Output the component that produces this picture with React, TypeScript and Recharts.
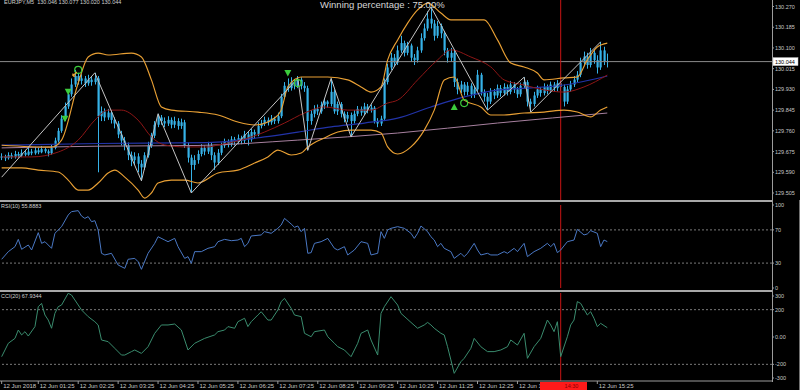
import React from 'react';
import { ComposedChart, Bar, Line, XAxis, YAxis, ReferenceLine, ReferenceDot } from 'recharts';

// ---------------- data ----------------
const SLOTS = 232; // bar slots on screen (183 bars + chart shift)
const FIRST_OPEN = 129.65;

const closes = [
  129.655, 129.648, 129.66, 129.652, 129.665, 129.658, 129.67, 129.662, 129.675, 129.668,
  129.68, 129.672, 129.685, 129.676, 129.668, 129.69, 129.72, 129.76, 129.81, 129.86,
  129.91, 129.95, 129.985, 129.965, 129.975, 129.955, 129.97, 129.96, 129.975, 129.82,
  129.84, 129.815, 129.835, 129.805, 129.79, 129.745, 129.72, 129.7, 129.66, 129.64,
  129.655, 129.625, 129.61, 129.66, 129.7, 129.74, 129.785, 129.815, 129.8, 129.79,
  129.805, 129.785, 129.8, 129.78, 129.795, 129.7, 129.65, 129.62, 129.64, 129.665,
  129.69, 129.675, 129.7, 129.66, 129.63, 129.67, 129.7, 129.715, 129.705, 129.725,
  129.715, 129.73, 129.72, 129.745, 129.725, 129.755, 129.745, 129.78, 129.79, 129.805,
  129.795, 129.81, 129.8, 129.82, 129.9, 129.945, 129.935, 129.96, 129.945, 129.97,
  129.945, 129.935, 129.8, 129.83, 129.85, 129.84, 129.865, 129.88, 129.87, 129.92,
  129.84, 129.87, 129.83, 129.81, 129.825, 129.8, 129.83, 129.85, 129.835, 129.86,
  129.845, 129.855, 129.8, 129.79, 129.81, 129.96, 130.02, 130.06, 130.04, 130.09,
  130.12, 130.08, 130.11, 130.06, 130.05, 130.09, 130.14, 130.18, 130.22, 130.2,
  130.15, 130.19, 130.16, 130.09, 130.06, 130.08, 129.96, 129.93, 129.95, 129.92,
  129.945, 129.91, 129.93, 129.99, 129.92, 129.9, 129.88, 129.92, 129.905, 129.935,
  129.915, 129.94, 129.92, 129.95, 129.93, 129.91, 129.945, 129.96, 129.88, 129.87,
  129.905, 129.93, 129.915, 129.94, 129.925, 129.95, 129.935, 129.955, 129.94, 129.88,
  129.93, 129.95, 129.97, 129.99, 130.04, 130.065, 130.03, 130.08, 130.05, 130.02,
  130.09, 130.046, 130.044,
];

const highs = [
  129.668, 129.662, 129.672, 129.67, 129.678, 129.674, 129.684, 129.682, 129.69, 129.686,
  129.694, 129.69, 129.698, 129.692, 129.684, 129.702, 129.732, 129.772, 129.824, 129.876,
  129.93, 129.975, 130.01, 129.998, 129.992, 129.985, 129.99, 129.985, 129.998, 129.985,
  129.86, 129.852, 129.85, 129.845, 129.815, 129.8, 129.76, 129.735, 129.712, 129.675,
  129.672, 129.668, 129.64, 129.672, 129.715, 129.752, 129.8, 129.83, 129.825, 129.815,
  129.82, 129.815, 129.818, 129.812, 129.81, 129.805, 129.712, 129.662, 129.66, 129.68,
  129.705, 129.7, 129.715, 129.71, 129.672, 129.685, 129.712, 129.728, 129.725, 129.738,
  129.735, 129.745, 129.74, 129.76, 129.758, 129.768, 129.765, 129.795, 129.805, 129.818,
  129.815, 129.825, 129.818, 129.835, 129.912, 129.96, 129.975, 129.98, 129.972, 129.985,
  129.98, 129.96, 129.945, 129.845, 129.865, 129.868, 129.88, 129.895, 129.885, 129.975,
  129.93, 129.88, 129.878, 129.84, 129.838, 129.835, 129.845, 129.862, 129.86, 129.875,
  129.87, 129.868, 129.862, 129.812, 129.822, 129.975, 130.035, 130.08, 130.075, 130.11,
  130.15, 130.13, 130.125, 130.118, 130.075, 130.105, 130.16, 130.2, 130.25, 130.268,
  130.215, 130.21, 130.2, 130.17, 130.1, 130.1, 130.09, 129.975, 129.965, 129.96,
  129.96, 129.955, 129.945, 130.01, 129.998, 129.93, 129.915, 129.935, 129.932, 129.95,
  129.948, 129.955, 129.95, 129.965, 129.96, 129.94, 129.958, 129.98, 129.968, 129.892,
  129.92, 129.945, 129.94, 129.955, 129.95, 129.962, 129.96, 129.968, 129.965, 129.95,
  129.945, 129.965, 129.985, 130.005, 130.06, 130.085, 130.08, 130.1, 130.095, 130.07,
  130.125, 130.105, 130.077,
];

const lows = [
  129.64, 129.636, 129.642, 129.645, 129.646, 129.65, 129.652, 129.655, 129.658, 129.66,
  129.662, 129.664, 129.668, 129.668, 129.655, 129.662, 129.684, 129.712, 129.752, 129.8,
  129.85, 129.9, 129.94, 129.95, 129.95, 129.94, 129.945, 129.945, 129.95, 129.59,
  129.8, 129.8, 129.805, 129.79, 129.77, 129.73, 129.7, 129.68, 129.64, 129.615,
  129.62, 129.59, 129.555, 129.6, 129.65, 129.69, 129.73, 129.775, 129.785, 129.775,
  129.78, 129.77, 129.772, 129.765, 129.768, 129.69, 129.63, 129.505, 129.6, 129.625,
  129.655, 129.66, 129.665, 129.64, 129.6, 129.62, 129.66, 129.69, 129.692, 129.695,
  129.7, 129.705, 129.705, 129.71, 129.7, 129.715, 129.73, 129.738, 129.77, 129.78,
  129.782, 129.785, 129.788, 129.79, 129.812, 129.89, 129.92, 129.925, 129.93, 129.935,
  129.93, 129.92, 129.68, 129.785, 129.815, 129.825, 129.83, 129.85, 129.855, 129.86,
  129.83, 129.825, 129.815, 129.795, 129.795, 129.735, 129.79, 129.82, 129.822, 129.825,
  129.832, 129.835, 129.79, 129.775, 129.78, 129.8, 129.95, 130.01, 130.025, 130.03,
  130.08, 130.065, 130.07, 130.045, 130.03, 130.04, 130.08, 130.13, 130.17, 130.18,
  130.13, 130.14, 130.14, 130.07, 130.04, 130.045, 129.94, 129.91, 129.915, 129.905,
  129.905, 129.895, 129.895, 129.92, 129.905, 129.88, 129.845, 129.87, 129.89, 129.895,
  129.9, 129.905, 129.905, 129.91, 129.915, 129.895, 129.9, 129.935, 129.86, 129.837,
  129.86, 129.895, 129.9, 129.905, 129.91, 129.915, 129.92, 129.922, 129.925, 129.86,
  129.87, 129.92, 129.94, 129.96, 129.98, 130.025, 130.015, 130.02, 130.035, 129.995,
  130.01, 130.03, 130.02,
];

type Pt = [number, number];

const zigzag: Pt[] = [
  [0, 129.57], [28, 129.998], [42, 129.555], [47, 129.83], [57, 129.505], [89, 129.975],
  [92, 129.68], [99, 129.975], [105, 129.735], [129, 130.268], [146, 129.845], [157, 129.98],
  [159, 129.837], [180, 130.125],
];

const bbUpper: Pt[] = [
  [0, 129.701], [15, 129.693], [18, 129.722], [23, 129.956], [26, 130.063], [29, 130.079],
  [32, 130.071], [39, 130.079], [42, 130.063], [45, 129.969], [48, 129.858], [51, 129.845],
  [59, 129.837], [65, 129.825], [71, 129.796], [76, 129.784], [82, 129.813], [84, 129.845],
  [86, 129.94], [90, 129.981], [98, 129.981], [104, 129.969], [108, 129.94], [111, 129.919],
  [114, 129.94], [116, 130.051], [119, 130.133], [122, 130.202], [125, 130.256], [128, 130.284],
  [132, 130.243], [135, 130.215], [139, 130.215], [145, 130.215], [149, 130.133], [153, 130.038],
  [157, 130.022], [161, 129.997], [163, 129.969], [169, 129.977], [173, 129.981], [176, 130.051],
  [179, 130.104], [182, 130.12],
];

const bbMiddle: Pt[] = [
  [0, 129.653], [9, 129.653], [17, 129.673], [23, 129.722], [28, 129.804], [32, 129.845],
  [36, 129.845], [41, 129.804], [45, 129.735], [49, 129.702], [55, 129.694], [62, 129.694],
  [65, 129.702], [72, 129.722], [79, 129.755], [85, 129.792], [91, 129.833], [97, 129.858],
  [104, 129.845], [111, 129.845], [116, 129.874], [119, 129.886], [125, 129.969], [131, 130.051],
  [135, 130.092], [141, 130.063], [147, 130.022], [151, 129.969], [157, 129.948], [163, 129.928],
  [169, 129.919], [175, 129.94], [182, 129.989],
];

const bbLower: Pt[] = [
  [0, 129.608], [6, 129.608], [11, 129.599], [17, 129.591], [20, 129.558], [23, 129.517],
  [26, 129.517], [29, 129.546], [32, 129.587], [34, 129.599], [37, 129.57], [41, 129.517],
  [43, 129.484], [45, 129.505], [47, 129.546], [51, 129.558], [55, 129.558], [59, 129.546],
  [65, 129.587], [71, 129.599], [76, 129.628], [80, 129.653], [83, 129.681], [87, 129.661],
  [90, 129.669], [92, 129.694], [97, 129.731], [101, 129.755], [105, 129.763], [111, 129.763],
  [114, 129.751], [116, 129.694], [119, 129.665], [123, 129.694], [127, 129.763], [130, 129.845],
  [133, 129.969], [136, 129.981], [139, 129.886], [144, 129.858], [147, 129.825], [151, 129.825],
  [157, 129.833], [163, 129.837], [169, 129.845], [173, 129.837], [177, 129.817], [180, 129.845],
  [182, 129.858],
];

const maBlue: Pt[] = [
  [0, 129.701], [29, 129.708], [62, 129.712], [79, 129.735], [89, 129.755], [99, 129.776],
  [109, 129.792], [119, 129.812], [129, 129.858], [139, 129.899], [149, 129.927], [159, 129.936],
  [169, 129.948], [182, 129.985],
];

const maPurple: Pt[] = [
  [0, 129.69], [29, 129.697], [59, 129.7], [89, 129.722], [119, 129.751], [149, 129.792], [182, 129.833],
];

const rsi10: Pt[] = [
  [0, 34.6], [2, 43.8], [4, 49.8], [5, 58.6], [6, 46.6], [8, 51.8], [9, 45.8], [11, 66.7], [12, 53.8],
  [13, 55.8], [15, 47.8], [16, 65.9], [18, 73.9], [20, 88], [21, 92], [23, 93.2], [24, 86.7], [25, 83.9],
  [26, 86], [27, 79.9], [28, 81.1], [29, 69.9], [30, 41.8], [31, 39.8], [33, 41.8], [35, 27.7], [37, 23.7],
  [38, 34.6], [40, 35.7], [41, 31.7], [42, 22.5], [44, 41.8], [46, 53.8], [47, 61.8], [49, 57.8], [50, 55.8],
  [52, 59.8], [53, 49.8], [55, 35.7], [56, 37.8], [57, 29.7], [58, 43.8], [60, 43.8], [62, 47.8], [64, 49.8],
  [65, 55.8], [67, 58.6], [69, 57], [71, 57.8], [72, 59.8], [73, 49.8], [74, 53.8], [75, 62.7], [78, 63.9],
  [79, 67.9], [81, 65.9], [83, 71.9], [84, 75.9], [85, 83.9], [87, 77.1], [88, 73.1], [89, 74.7], [90, 67.9],
  [91, 71.9], [92, 41.8], [93, 42.6], [94, 53.8], [96, 55.8], [98, 59.8], [100, 47.8], [101, 45.8], [103, 49.8],
  [104, 39.8], [106, 45.8], [108, 55.8], [110, 53.8], [111, 39.8], [113, 41.8], [114, 67.9], [115, 59.8],
  [116, 69.9], [117, 71.9], [119, 73.9], [121, 71.9], [123, 65.9], [124, 59.8], [125, 65.9], [126, 74.7],
  [128, 67.9], [129, 61.8], [130, 57.8], [131, 49.8], [132, 53.8], [133, 47.8], [135, 43.8], [136, 35.7],
  [138, 41.8], [139, 37.8], [140, 41.8], [142, 53.8], [143, 45.8], [144, 39.8], [146, 41.8], [147, 39.8],
  [149, 39.8], [151, 43.8], [152, 41.8], [154, 47.8], [155, 43.8], [157, 53.8], [158, 37.8], [160, 43.8],
  [162, 47.8], [164, 53.8], [165, 49.8], [166, 53.8], [167, 42.6], [168, 45.8], [170, 55.8], [172, 57.8],
  [173, 70.7], [175, 63.9], [176, 65.1], [177, 69.1], [179, 65.9], [180, 49.8], [181, 57.8], [182, 55.9],
];

const cci20: Pt[] = [
  [0, -144], [2, -46], [4, -10], [5, 51], [6, 15], [7, 39], [8, 7], [10, 76], [11, 222], [12, 246],
  [13, 161], [14, 124], [15, 64], [16, 173], [17, 222], [18, 234], [20, 320], [21, 307], [22, 271],
  [24, 198], [26, 149], [28, 112], [29, 88], [30, -22], [32, -34], [34, -83], [36, -132], [37, -132],
  [39, -107], [40, -95], [42, -120], [44, -71], [46, 27], [48, 88], [50, 88], [52, 95], [54, 51],
  [55, -22], [56, -95], [58, -46], [59, -34], [61, -10], [64, 15], [65, 39], [67, 51], [68, 76],
  [70, 64], [71, 112], [73, 137], [74, 76], [75, 112], [77, 161], [78, 185], [80, 124], [81, 124],
  [83, 198], [84, 259], [85, 283], [87, 210], [88, 161], [90, 149], [91, 27], [93, 2], [94, 39],
  [97, 51], [98, 2], [100, -46], [101, -71], [103, -95], [105, -144], [107, -46], [108, 27], [110, 51],
  [111, -22], [113, -132], [114, 173], [115, 222], [117, 295], [119, 234], [120, 173], [123, 107],
  [125, 64], [127, 88], [128, 107], [129, 88], [130, 64], [132, 27], [133, 15], [134, -71], [135, -168],
  [136, -266], [138, -181], [139, -156], [141, -83], [142, -10], [144, -71], [146, -107], [148, -107],
  [150, -95], [152, -71], [153, -22], [155, -59], [157, 27], [158, -156], [160, -71], [162, -10],
  [164, 124], [165, 88], [166, 39], [167, 112], [168, -144], [170, 2], [171, 88], [172, 124], [173, 259],
  [174, 246], [176, 161], [177, 185], [178, 137], [179, 76], [180, 100], [182, 68],
];

const sellArrows: Pt[] = [[19, 129.81], [20, 129.92], [86, 129.997]];
const buyArrows: Pt[] = [[136, 129.858]];
const signalCircles: Pt[] = [[23, 130.01], [89, 129.956], [139, 129.874]];
const exitMarks: Pt[] = [[22, 129.993]];

const priceTicks = [129.505, 129.59, 129.675, 129.76, 129.845, 129.93, 130.015, 130.1, 130.185, 130.27];
const lastPrice = 130.044;
const rsiTicks = [0, 30, 70, 100];
const rsiLevels = [30, 70];
const cciTicks = [-300, -200, 0, 200, 300];
const cciLevels = [-200, 200];
const crossIdx = 168;
const crossLabel = '14:30';

// 14:25 label sits under the crosshair time box in the reference, so only these are shown
const timeTicks = [0, 11, 23, 35, 47, 59, 71, 83, 95, 107, 119, 131, 143, 155, 179];
const timeLabels = [
  '12 Jun 2018', '12 Jun 01:25', '12 Jun 02:25', '12 Jun 03:25', '12 Jun 04:25', '12 Jun 05:25',
  '12 Jun 06:25', '12 Jun 07:25', '12 Jun 08:25', '12 Jun 09:25', '12 Jun 10:25', '12 Jun 11:25',
  '12 Jun 12:25', '12 Jun 13:25', '12 Jun 15:25',
];

const symbolHeader = 'EURJPY,M5  130.046 130.077 130.020 130.044';
const titleText = 'Winning percentage : 75.00%';
const rsiHeader = 'RSI(10) 55.8883';
const cciHeader = 'CCI(20) 67.9344';

// ---------------- table ----------------
const mapOf = (p: Pt[]) => new Map<number, number>(p);
const zzM = mapOf(zigzag), buM = mapOf(bbUpper), bmM = mapOf(bbMiddle), blM = mapOf(bbLower);
const m1M = mapOf(maBlue), m2M = mapOf(maPurple), rM = mapOf(rsi10), cM = mapOf(cci20);

const table = Array.from({ length: SLOTS }, (_, i) => {
  const row: any = { i };
  if (i < closes.length) {
    row.o = i === 0 ? FIRST_OPEN : closes[i - 1];
    row.c = closes[i];
    row.h = highs[i];
    row.l = lows[i];
    row.range = [lows[i], highs[i]];
  } else {
    row.range = null;
  }
  row.zz = zzM.has(i) ? zzM.get(i) : null;
  row.bbU = buM.has(i) ? buM.get(i) : null;
  row.bbM = bmM.has(i) ? bmM.get(i) : null;
  row.bbL = blM.has(i) ? blM.get(i) : null;
  row.ma1 = m1M.has(i) ? m1M.get(i) : null;
  row.ma2 = m2M.has(i) ? m2M.get(i) : null;
  row.rsi = rM.has(i) ? rM.get(i) : null;
  row.cci = cM.has(i) ? cM.get(i) : null;
  return row;
});

// ---------------- styling ----------------
const FONT = '"Liberation Sans", Arial, sans-serif';
const FRAME = '#9c9c9c';
const TXT = '#c8c8c8';
const CANDLE = '#36b2e8';
const BAND = '#e9a034';
const MID = '#8e1616';
const BLUE = '#2233a8';
const PURPLE = '#a7809f';
const ZZ = '#c4c4c4';
const RED = '#c81414';
const GREEN = '#3ccc3c';
const AXIS_W = 28;

const Candle = (props: any) => {
  const { x, y, width, height, payload } = props;
  if (!payload || payload.c == null || x == null) return <g />;
  const top = Math.min(y, y + height);
  const h = Math.abs(height);
  const span = payload.h - payload.l;
  const py = (v: number) => (span > 0 ? top + ((payload.h - v) / span) * h : top);
  const cx = Math.floor(x + width / 2);
  const bTop = py(Math.max(payload.o, payload.c));
  const bBot = py(Math.min(payload.o, payload.c));
  return (
    <g>
      <line x1={cx + 0.5} x2={cx + 0.5} y1={top} y2={top + h} stroke={CANDLE} strokeWidth={1} />
      <rect x={cx - 0.5} y={bTop} width={2.2} height={Math.max(1, bBot - bTop)} fill={CANDLE} />
    </g>
  );
};

const priceTick = (p: any) => {
  const v = p.payload.value;
  if (v === lastPrice) {
    return (
      <g>
        <rect x={p.x - 2} y={p.y - 4} width={25} height={8} fill="#ffffff" stroke="#bbbbbb" strokeWidth={0.5} />
        <text x={p.x} y={p.y + 2} fontSize={5.5} fontFamily={FONT} fill="#000" textAnchor="start">
          {v.toFixed(3)}
        </text>
      </g>
    );
  }
  return (
    <text x={p.x} y={p.y + 2} fontSize={5.5} fontFamily={FONT} fill={TXT} textAnchor="start">
      {v.toFixed(3)}
    </text>
  );
};

const plainTick = (fmt: (v: number) => string) => (p: any) => (
  <text x={p.x} y={p.y + 2} fontSize={5.5} fontFamily={FONT} fill={TXT} textAnchor="start">
    {fmt(p.payload.value)}
  </text>
);

const timeTick = (p: any) => {
  const k = timeTicks.indexOf(p.payload.value);
  return (
    <text x={p.x + 1.5} y={p.y + 4} fontSize={6} fontFamily={FONT} fill={TXT} textAnchor="start">
      {k >= 0 ? timeLabels[k] : ''}
    </text>
  );
};

const sellShape = (p: any) => (
  <path d={`M${p.cx - 3.5},${p.cy - 3} L${p.cx + 3.5},${p.cy - 3} L${p.cx},${p.cy + 3.5} Z`} fill={GREEN} />
);
const buyShape = (p: any) => (
  <path d={`M${p.cx - 3.5},${p.cy + 3} L${p.cx + 3.5},${p.cy + 3} L${p.cx},${p.cy - 3.5} Z`} fill={GREEN} />
);
const circleShape = (p: any) => <circle cx={p.cx} cy={p.cy} r={3.5} fill="none" stroke={GREEN} strokeWidth={1.2} />;
const exitShape = (p: any) => (
  <path d={`M${p.cx - 2},${p.cy + 2} L${p.cx + 2},${p.cy - 2} M${p.cx - 2},${p.cy + 2} L${p.cx - 2},${p.cy - 0.5} M${p.cx - 2},${p.cy + 2} L${p.cx + 0.5},${p.cy + 2}`} stroke={BAND} strokeWidth={1.2} fill="none" />
);

const xAxisHidden = <XAxis dataKey="i" type="category" scale="band" hide />;

const seriesLine = (key: string, color: string, w = 1, curve: any = 'monotone') => (
  <Line
    key={key}
    dataKey={key}
    type={curve}
    stroke={color}
    strokeWidth={w}
    dot={false}
    activeDot={false}
    connectNulls
    isAnimationActive={false}
  />
);

const abs = (left: number, top: number, extra: any = {}) => ({
  position: 'absolute' as const,
  left,
  top,
  ...extra,
});

export default function App() {
  return (
    <div style={{ position: 'absolute', left: 0, top: 0, width: 800, height: 390, background: '#000', overflow: 'hidden', fontFamily: FONT }}>
      {/* main price panel */}
      <div style={abs(0, 0)}>
        <ComposedChart width={800} height={200} data={table} margin={{ top: 0, right: 0, bottom: 0, left: 0 }} barCategoryGap="10%">
          {xAxisHidden}
          <YAxis
            orientation="right"
            width={AXIS_W}
            domain={[129.4763, 130.2967]}
            allowDataOverflow
            ticks={[...priceTicks, lastPrice]}
            interval={0}
            axisLine={false}
            tickLine={{ stroke: FRAME }}
            tickSize={2}
            tickMargin={1}
            tick={priceTick}
          />
          <ReferenceLine y={lastPrice} stroke="#8a8a8a" strokeWidth={1} />
          <ReferenceLine x={crossIdx} stroke={RED} strokeWidth={1} />
          <Bar dataKey="range" shape={<Candle />} isAnimationActive={false} />
          {seriesLine('ma2', PURPLE, 1)}
          {seriesLine('ma1', BLUE, 1.2)}
          {seriesLine('bbM', MID, 1)}
          {seriesLine('bbU', BAND, 1.15)}
          {seriesLine('bbL', BAND, 1.15)}
          {seriesLine('zz', ZZ, 1, 'linear')}
          {sellArrows.map(([i, v]) => (
            <ReferenceDot key={'s' + i} x={i} y={v} r={3} shape={sellShape} />
          ))}
          {buyArrows.map(([i, v]) => (
            <ReferenceDot key={'b' + i} x={i} y={v} r={3} shape={buyShape} />
          ))}
          {signalCircles.map(([i, v]) => (
            <ReferenceDot key={'c' + i} x={i} y={v} r={3} shape={circleShape} />
          ))}
          {exitMarks.map(([i, v]) => (
            <ReferenceDot key={'e' + i} x={i} y={v} r={3} shape={exitShape} />
          ))}
        </ComposedChart>
      </div>

      {/* RSI panel */}
      <div style={abs(0, 200)}>
        <ComposedChart width={800} height={91} data={table} margin={{ top: 5, right: 0, bottom: 3, left: 0 }}>
          {xAxisHidden}
          <YAxis
            orientation="right"
            width={AXIS_W}
            domain={[0, 100]}
            allowDataOverflow
            ticks={rsiTicks}
            interval={0}
            axisLine={false}
            tickLine={{ stroke: FRAME }}
            tickSize={2}
            tickMargin={1}
            tick={plainTick((v) => String(v))}
          />
          {rsiLevels.map((lv) => (
            <ReferenceLine key={lv} y={lv} stroke="#7a7a7a" strokeDasharray="2 2" />
          ))}
          <ReferenceLine x={crossIdx} stroke={RED} strokeWidth={1} />
          {seriesLine('rsi', '#4a78c4', 1, 'linear')}
        </ComposedChart>
      </div>

      {/* CCI panel + time axis */}
      <div style={abs(0, 291)}>
        <ComposedChart width={800} height={99} data={table} margin={{ top: 2, right: 0, bottom: 0, left: 0 }}>
          <XAxis
            dataKey="i"
            type="category"
            scale="band"
            height={9}
            ticks={timeTicks}
            interval={0}
            axisLine={{ stroke: FRAME }}
            tickLine={{ stroke: FRAME }}
            tickSize={3}
            tickMargin={0}
            tick={timeTick}
          />
          <YAxis
            orientation="right"
            width={AXIS_W}
            domain={[-322, 322]}
            allowDataOverflow
            ticks={cciTicks}
            interval={0}
            axisLine={false}
            tickLine={{ stroke: FRAME }}
            tickSize={2}
            tickMargin={1}
            tick={plainTick((v) => (v === 0 ? '0.00' : String(v)))}
          />
          {cciLevels.map((lv) => (
            <ReferenceLine key={lv} y={lv} stroke="#7a7a7a" strokeDasharray="2 2" />
          ))}
          <ReferenceLine x={crossIdx} stroke={RED} strokeWidth={1} />
          {seriesLine('cci', '#3a8c6e', 1, 'linear')}
        </ComposedChart>
      </div>

      {/* frames */}
      <div style={abs(0, 200, { width: 773, height: 2, background: '#a8a8a8' })} />
      <div style={abs(0, 290, { width: 773, height: 2, background: '#a8a8a8' })} />
      <div style={abs(772, 0, { width: 1, height: 382, background: FRAME })} />
      <div style={abs(799, 200, { width: 1, height: 190, background: '#707070' })} />

      {/* crosshair time label (covers the tail of the 13:25 label, as in the reference) */}
      <div style={abs(556, 382, { width: 31, height: 8, background: '#ff1a1a', color: '#8a0000', fontSize: 5.5, lineHeight: '8px', textAlign: 'center', whiteSpace: 'nowrap' })}>
        {crossLabel}
      </div>
      <div style={abs(540, 382, { width: 16, height: 8, background: '#ff1a1a' })} />

      {/* texts */}
      <div style={abs(4, -1, { color: '#d0d0d0', fontSize: 5.5, lineHeight: '7px', whiteSpace: 'pre' })}>{symbolHeader}</div>
      <div style={abs(320, -1, { color: '#d6d6d6', fontSize: 9.5, lineHeight: '12px', whiteSpace: 'nowrap' })}>{titleText}</div>
      <div style={abs(1, 203, { color: '#d0d0d0', fontSize: 5.5, lineHeight: '7px', whiteSpace: 'nowrap' })}>{rsiHeader}</div>
      <div style={abs(1, 293, { color: '#d0d0d0', fontSize: 5.5, lineHeight: '7px', whiteSpace: 'nowrap' })}>{cciHeader}</div>
    </div>
  );
}
